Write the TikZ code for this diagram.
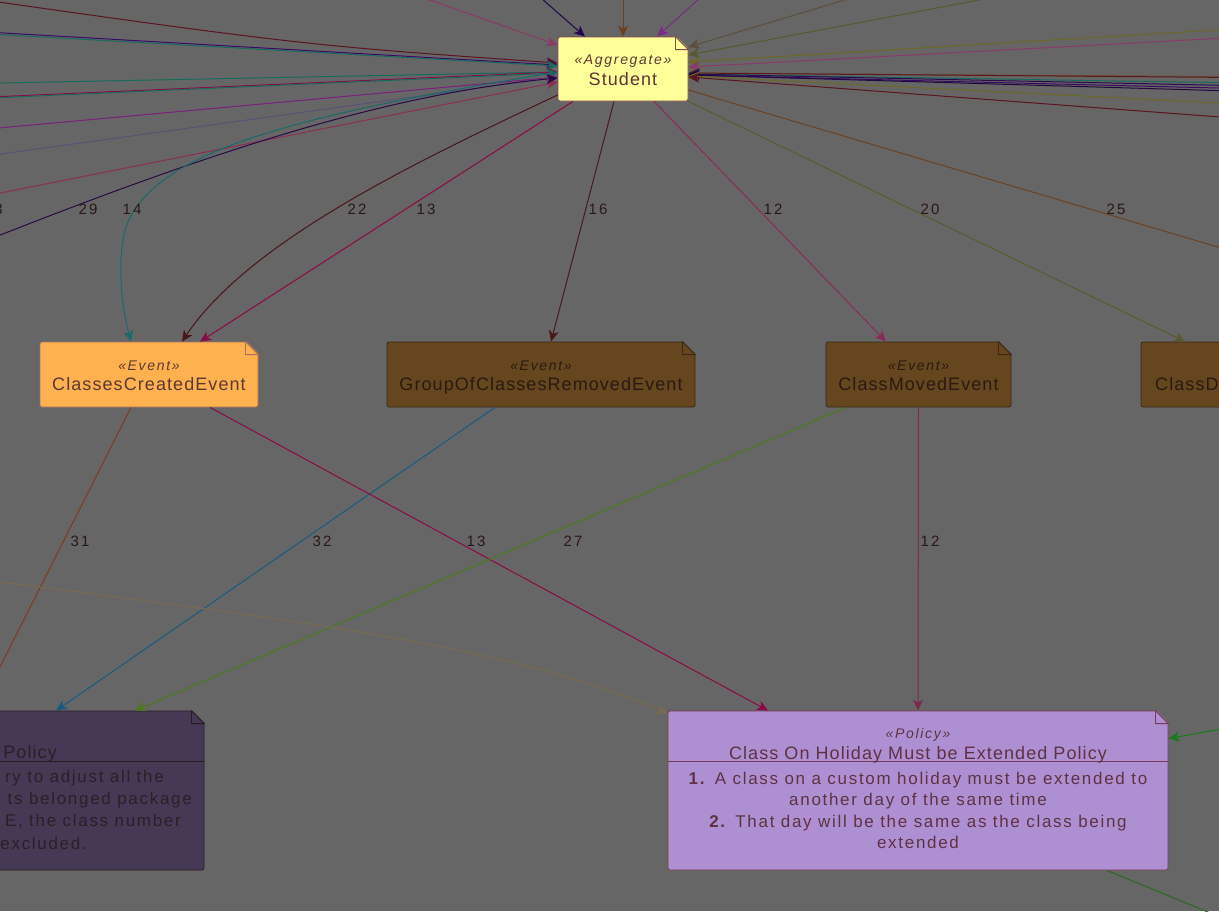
\documentclass[tikz,border=0pt]{standalone}
\usepackage{fontspec}
\setmainfont{Liberation Sans}
\newfontfamily\fnm[LetterSpace=6]{Liberation Sans}
\newfontfamily\fbody[LetterSpace=10]{Liberation Sans}
\newfontfamily\flbl[LetterSpace=14]{Liberation Sans}
\newfontfamily\fst[LetterSpace=12]{Liberation Sans}
\usetikzlibrary{arrows.meta,calc}
\newcommand\stxt{\fst\itshape\fontsize{14}{20}\selectfont}
\newcommand\ntxt{\fnm\fontsize{18}{20}\selectfont}
\newcommand\btxt{\fbody\fontsize{17}{21.5}\selectfont}
\newcommand\evtext[1]{\rule{0pt}{16pt}\stxt «Event»\\[6pt]\ntxt #1\vphantom{g}}
\definecolor{bgc}{HTML}{666666}
\definecolor{stufill}{HTML}{FFFF99}
\definecolor{stuline}{HTML}{8A4A4A}
\definecolor{stutext}{HTML}{5E3535}
\definecolor{ccefill}{HTML}{FFB04F}
\definecolor{cceline}{HTML}{A87060}
\definecolor{ccetext}{HTML}{5A3A35}
\definecolor{brfill}{HTML}{65461F}
\definecolor{brline}{HTML}{3A2818}
\definecolor{brtext}{HTML}{2A1A12}
\definecolor{lpfill}{HTML}{463955}
\definecolor{lpline}{HTML}{2A1A22}
\definecolor{lptext}{HTML}{2D1F24}
\definecolor{rpfill}{HTML}{AE90D2}
\definecolor{rpline}{HTML}{7A3A55}
\definecolor{rptext}{HTML}{5E3242}
\definecolor{lblc}{HTML}{2A1818}
\definecolor{cPink}{HTML}{8A3A68}
\definecolor{cNavy}{HTML}{20084A}
\definecolor{cBrown}{HTML}{6A4020}
\definecolor{cMag}{HTML}{7A2A88}
\definecolor{cRa}{HTML}{5C4E3C}
\definecolor{cRb}{HTML}{585830}
\definecolor{cOlive}{HTML}{6A6A26}
\definecolor{cRd}{HTML}{8A3A6A}
\definecolor{cBgray}{HTML}{6A5040}
\definecolor{cDred}{HTML}{5A1A1A}
\definecolor{cTeal}{HTML}{1A6A5A}
\definecolor{cPur1}{HTML}{2A0A50}
\definecolor{cPur2}{HTML}{3A0A60}
\definecolor{cPur3}{HTML}{200A40}
\definecolor{cDred2}{HTML}{5A1520}
\definecolor{cPurL}{HTML}{3A0A6A}
\definecolor{cCrim}{HTML}{8A0A45}
\definecolor{cPurM}{HTML}{7A207A}
\definecolor{cFaint}{HTML}{5A5275}
\definecolor{cPm}{HTML}{8A3050}
\definecolor{cDpur}{HTML}{2A0A45}
\definecolor{cTeal2}{HTML}{1A6A6A}
\definecolor{cDr22}{HTML}{4A1518}
\definecolor{cDr16}{HTML}{4A1A1A}
\definecolor{cMag12}{HTML}{8A2A5A}
\definecolor{cOl20}{HTML}{5A5A30}
\definecolor{cBr25}{HTML}{6A4222}
\definecolor{cBr31}{HTML}{7A3A20}
\definecolor{cBlue}{HTML}{1A5A80}
\definecolor{cGreen}{HTML}{4A7A1A}
\definecolor{cMar}{HTML}{7A2A50}
\definecolor{cTan}{HTML}{7A6A50}
\definecolor{cGin}{HTML}{1A7A1A}
\definecolor{cGout}{HTML}{2A6A20}
\tikzset{
  box/.style={draw, rounded corners=2pt, line width=0.8pt, inner sep=0pt, align=center},
  evbox/.style={box, minimum height=65pt},
  conn/.style={line width=1pt, -{Stealth[length=11pt,width=10pt,inset=3pt]}},
  plainline/.style={line width=1pt},
  lbl/.style={text=lblc, font=\flbl\fontsize{15}{18}\selectfont, inner sep=0pt},
  txt/.style={inner sep=0pt, align=center},
}
\newcommand\notefold[3]{%
  \fill[bgc] ([xshift=-13pt,yshift=1pt]#1.north east) -- ([xshift=1pt,yshift=1pt]#1.north east) -- ([xshift=1pt,yshift=-13pt]#1.north east) -- cycle;
  \filldraw[fill=#2, draw=#3, line width=0.8pt, line join=round] ([xshift=-13pt]#1.north east) -- ([xshift=-13pt,yshift=-13pt]#1.north east) -- ([yshift=-13pt]#1.north east) -- cycle;
}
\begin{document}
\begin{tikzpicture}[x=1pt,y=-1pt]
\useasboundingbox (0,0) rectangle (1219,911);
\fill[bgc] (0,0) rectangle (1219,911);
\clip (0,0) rectangle (1219,911);

% nodes
\node[box, fill=stufill, draw=stuline, text=stutext, minimum width=130pt, minimum height=64pt] (s) at (623,69) {\rule{0pt}{13pt}\stxt «Aggregate»\\[4pt]\ntxt Student};
\node[evbox, fill=ccefill, draw=cceline, text=ccetext, minimum width=218pt] (cce) at (149,374.5) {\evtext{ClassesCreatedEvent}};
\node[evbox, fill=brfill, draw=brline, text=brtext, minimum width=308pt] (gcr) at (541,374.5) {\evtext{GroupOfClassesRemovedEvent}};
\node[evbox, fill=brfill, draw=brline, text=brtext, minimum width=185pt] (cme) at (918.5,374.5) {\evtext{ClassMovedEvent}};
\node[evbox, fill=brfill, draw=brline, minimum width=220pt] (cd) at (1251,374.5) {};
\node[txt, anchor=west, text=brtext, font=\ntxt] (cdt) at (1155,384) {ClassD};
\node[box, fill=lpfill, draw=lpline, minimum width=364pt, minimum height=159pt] (lp) at (22,790.5) {};
\node[box, fill=rpfill, draw=rpline, minimum width=500pt, minimum height=159pt] (rp) at (918,790.5) {};
\notefold{s}{stufill}{stuline}
\notefold{cce}{ccefill}{cceline}
\notefold{gcr}{brfill}{brline}
\notefold{cme}{brfill}{brline}
\notefold{lp}{lpfill}{lpline}
\notefold{rp}{rpfill}{rpline}

% left policy texts
\draw[lpline, line width=0.8pt] ([yshift=-51pt]lp.north west) -- ([yshift=-51pt]lp.north east);
\node[txt, anchor=east, text=lptext, font=\ntxt] (lpt) at (57,754) {Policy};
\node[txt, anchor=east, text=lptext, font=\btxt] (lpb1) at (164,778) {ry to adjust all the};
\node[txt, anchor=east, text=lptext, font=\btxt] (lpb2) at (192,800) {ts belonged package};
\node[txt, anchor=east, text=lptext, font=\btxt] (lpb3) at (181,821) {E, the class number};
\node[txt, anchor=east, text=lptext, font=\btxt] (lpb4) at (87,843) {excluded.};

% right policy texts
\draw[rpline, line width=0.8pt] ([yshift=-51pt]rp.north west) -- ([yshift=-51pt]rp.north east);
\node[txt, text=rptext, font=\stxt] (rpst) at (918,735) {«Policy»};
\node[txt, text=rptext, font=\ntxt] (rpti) at (918,755) {Class On Holiday Must be Extended Policy};
\node[txt, text=rptext, font=\btxt] (rpb) at (918,810.5) {\textbf{1.} A class on a custom holiday must be extended to\\another day of the same time\\\textbf{2.} That day will be the same as the class being\\extended};

% free ends
\coordinate (p1) at (302,-45);
\coordinate (t2) at (501,-37);
\coordinate (t3) at (623,-40);
\coordinate (t4) at (739,-37);
\coordinate (ra) at (1001,-47);
\coordinate (rb) at (1269,-55);
\coordinate (rc) at (1300,25);
\coordinate (rd) at (1300,34);
\coordinate (rb1) at (1300,77);
\coordinate (rb2) at (1300,78);
\coordinate (rb3) at (1300,84);
\coordinate (rb4) at (1300,87);
\coordinate (rb5) at (1300,90);
\coordinate (rb6) at (1300,93);
\coordinate (roy) at (1300,107);
\coordinate (rdr) at (1300,123);
\coordinate (l1) at (-100,-12);
\coordinate (l2a) at (-100,27);
\coordinate (l2b) at (-100,29);
\coordinate (l3) at (-100,85);
\coordinate (l4a) at (-100,101);
\coordinate (l4b) at (-100,102);
\coordinate (l5) at (-100,137);
\coordinate (l6) at (-100,168);
\coordinate (l7) at (-100,213);
\coordinate (l8) at (-40,251);
\coordinate (c25) at (1400,301);
\coordinate (tn) at (-100,569);
\coordinate (gr) at (1300,715);
\coordinate (gout) at (1300,950);

% edges into Student
\draw[conn, cPink] (p1) -- ([yshift=24pt]s.west);
\draw[conn, cNavy] (t2) -- ([xshift=-38pt]s.north);
\draw[conn, cBrown] (t3) -- (s.north);
\draw[conn, cMag] (t4) -- ([xshift=34pt]s.north);
\draw[conn, cRa] (ra) -- ([yshift=22pt]s.east);
\draw[conn, cRb] (rb) -- ([yshift=14pt]s.east);
\draw[conn, cOlive] (rc) -- ([yshift=7pt]s.east);
\draw[conn, cRd] (rd) -- ([yshift=2pt]s.east);
\draw[conn, cBgray] (rb1) -- ([yshift=-4pt]s.east);
\draw[conn, cDred] (rb2) -- ([yshift=-4pt]s.east);
\draw[conn, cTeal] (rb3) -- ([yshift=-5pt]s.east);
\draw[conn, cPur1] (rb4) -- ([yshift=-5pt]s.east);
\draw[conn, cPur2] (rb5) -- ([yshift=-6pt]s.east);
\draw[conn, cPur3] (rb6) -- ([yshift=-6pt]s.east);
\draw[conn, cOlive] (roy) -- ([yshift=-7pt]s.east);
\draw[conn, cDred2] (rdr) -- ([yshift=-8pt]s.east);
\draw[conn, cDred2] (l1) .. controls (300,45) .. ([yshift=6pt]s.west);
\draw[conn, cPurL] (l2a) -- ([yshift=4pt]s.west);
\draw[conn, cTeal] (l2b) -- ([yshift=3pt]s.west);
\draw[conn, cTeal] (l3) -- ([yshift=-3pt]s.west);
\draw[conn, cCrim] (l4a) -- ([yshift=-3pt]s.west);
\draw[conn, cTeal] (l4b) -- ([yshift=-4pt]s.west);
\draw[conn, cPurM] (l5) -- ([yshift=-8pt]s.west);
\draw[conn, cFaint] (l6) -- ([yshift=-8pt]s.west);
\draw[conn, cPm] (l7) -- ([yshift=-13pt]s.west);
\draw[conn, cDpur] (l8) .. controls (200,155) and (380,95) .. ([yshift=-9pt]s.west);

% edges from Student
\draw[conn, cTeal2] ([yshift=-3pt]s.west) .. controls (300,115) and (150,150) .. (125,230) .. controls (118,260) and (120,300) .. ([xshift=-18pt]cce.north);
\draw[conn, cDr22] ([yshift=-26pt]s.west) .. controls (420,160) and (250,240) .. ([xshift=33pt]cce.north);
\draw[conn, cCrim] ([xshift=-50pt]s.south) -- ([xshift=51pt]cce.north);
\draw[conn, cDr16] ([xshift=-9pt]s.south) -- ([xshift=10pt]gcr.north);
\draw[conn, cMag12] ([xshift=31pt]s.south) -- ([xshift=-32.5pt]cme.north);
\draw[conn, cOl20] (s.south east) -- ([xshift=-66pt]cd.north);
\draw[conn, cBr25] ([yshift=-21pt]s.east) -- (c25);

% events to policies
\draw[conn, cBr31] ([xshift=-18pt]cce.south) -- ([xshift=-44pt]lp.north);
\draw[conn, cBlue] ([xshift=-46pt]gcr.south) -- ([xshift=34pt]lp.north);
\draw[conn, cCrim] ([xshift=61pt]cce.south) -- ([xshift=-150pt]rp.north);
\draw[conn, cGreen] ([xshift=-72.5pt]cme.south) -- ([xshift=113pt]lp.north);
\draw[conn, cMar] (cme.south) -- (rp.north);
\draw[conn, cTan] (tn) .. controls (250,615) and (500,640) .. ([yshift=-3pt]rp.north west);
\draw[conn, cGin] (gr) -- ([yshift=52pt]rp.east);
\draw[plainline, cGout] ([xshift=189pt]rp.south) -- (gout);

% labels
\node[lbl, anchor=east] (n3) at (3,209) {3};
\node[lbl] (n29) at (88,209) {29};
\node[lbl] (n14) at (132,209) {14};
\node[lbl] (n22) at (357,209) {22};
\node[lbl] (n13a) at (426,209) {13};
\node[lbl] (n16) at (598,209) {16};
\node[lbl] (n12a) at (773,209) {12};
\node[lbl] (n20) at (930,209) {20};
\node[lbl] (n25) at (1116,209) {25};
\node[lbl] (n31) at (80,541) {31};
\node[lbl] (n32) at (322,541) {32};
\node[lbl] (n13b) at (476,541) {13};
\node[lbl] (n27) at (573,541) {27};
\node[lbl] (n12b) at (930,541) {12};
\end{tikzpicture}
\end{document}
